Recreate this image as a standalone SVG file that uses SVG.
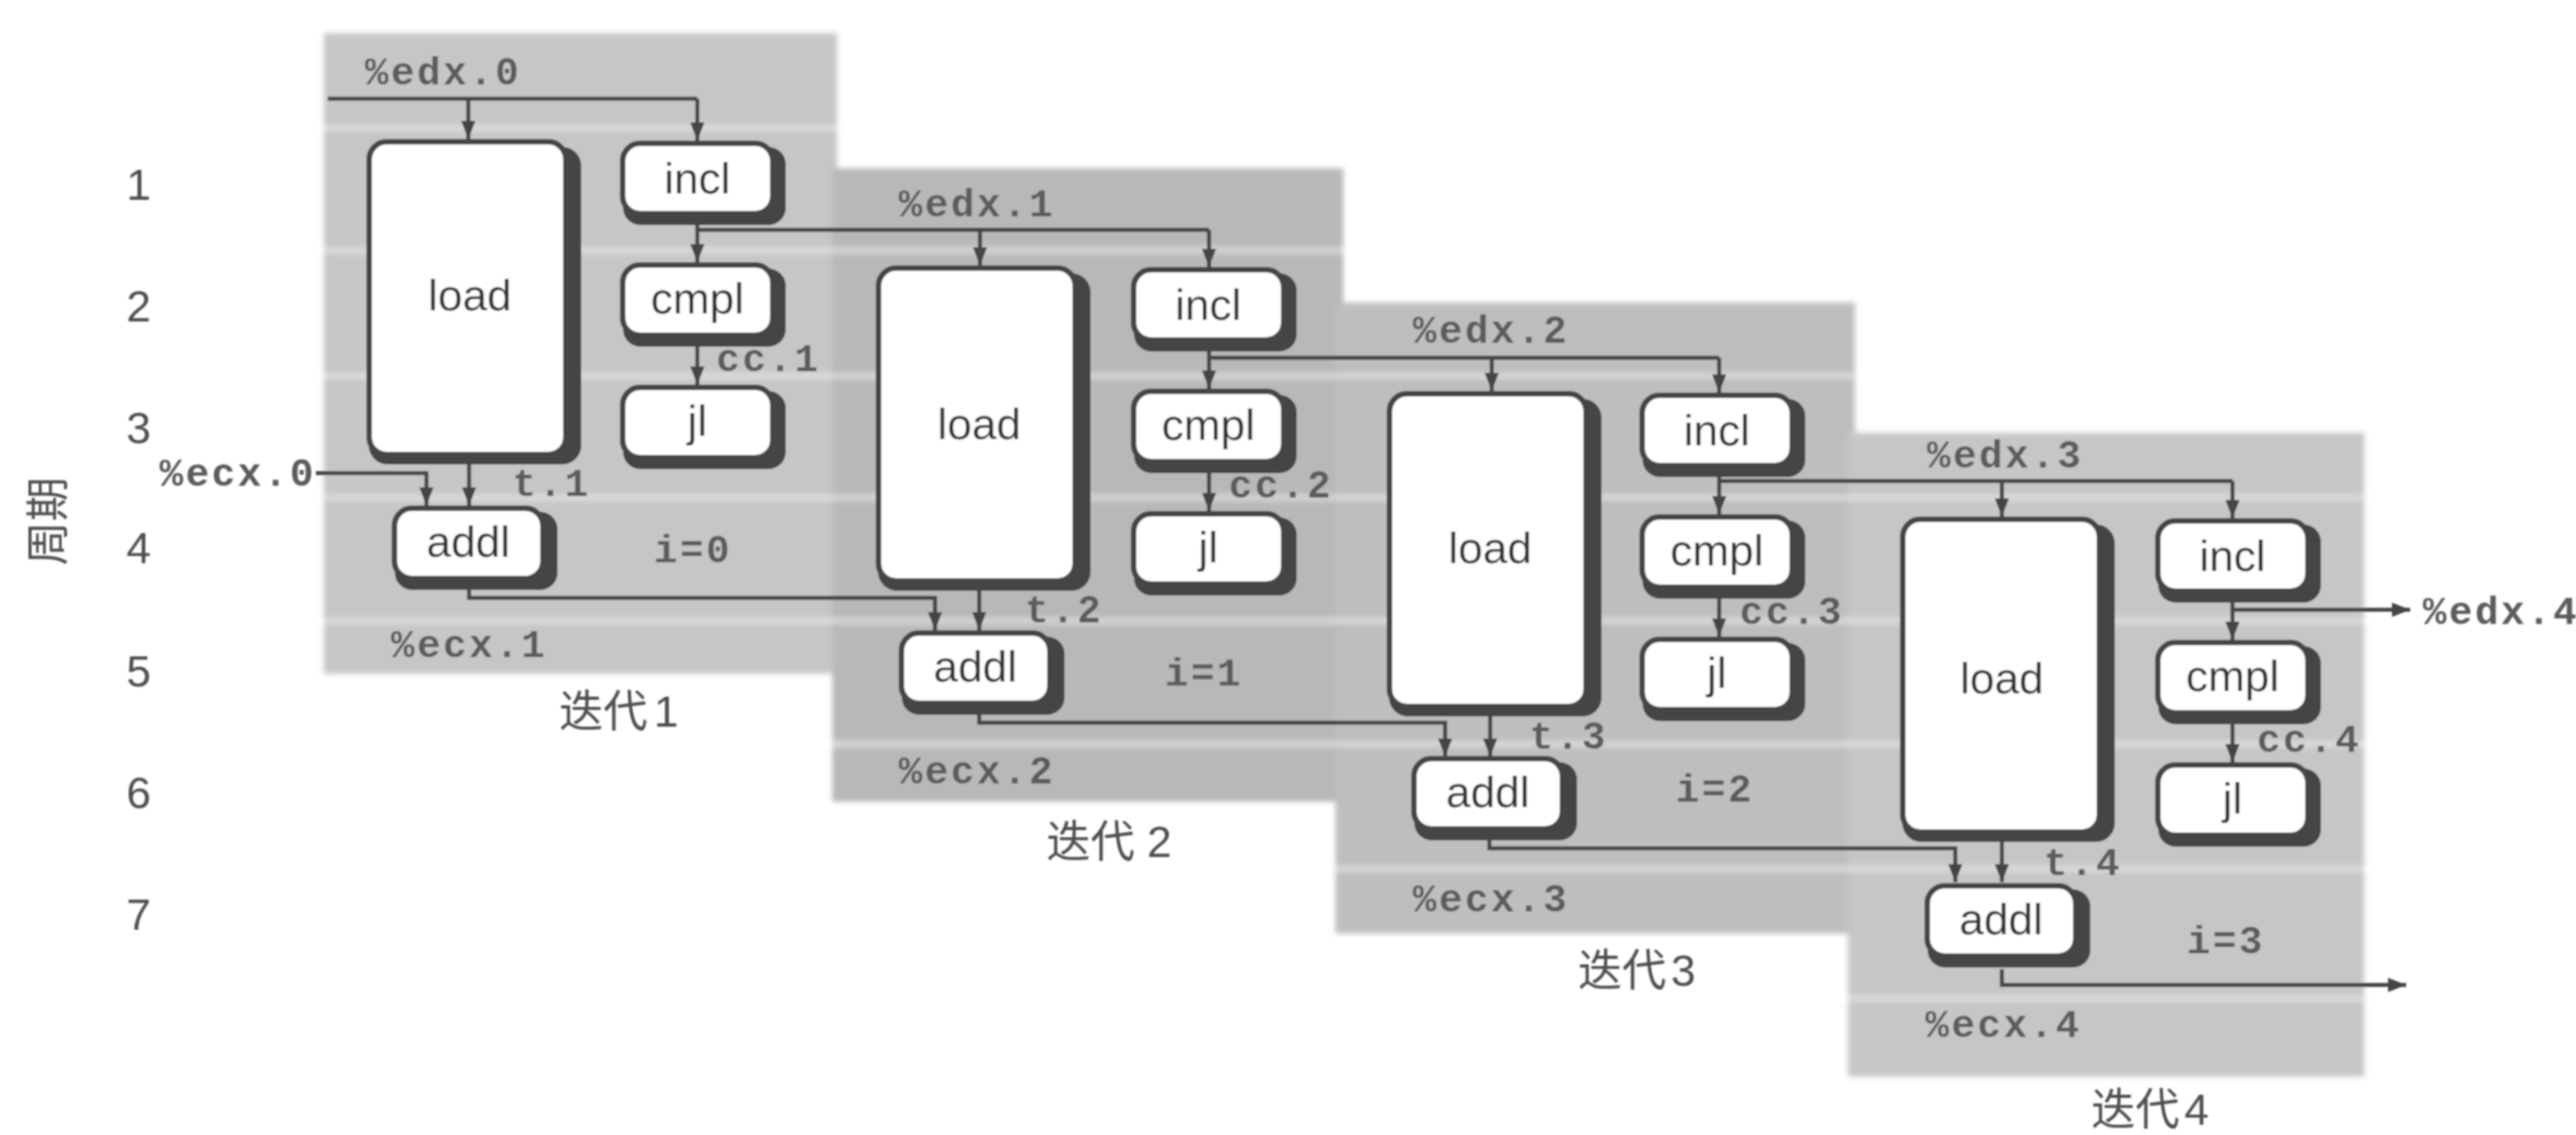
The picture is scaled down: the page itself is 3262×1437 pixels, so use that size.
<svg xmlns="http://www.w3.org/2000/svg" width="3262" height="1437" viewBox="0 0 3262 1437">
<style>
.sh{fill:#444}
.face{fill:#fff;stroke:#444;stroke-width:7}
.n{font-family:"Liberation Sans",Arial,sans-serif;font-size:56px;fill:#333;text-anchor:middle}
.m{font-family:"Liberation Mono","Courier New",monospace;font-size:50px;font-weight:700;fill:#5c5c5c;letter-spacing:3px}
.l{font-family:"Liberation Sans","Noto Sans CJK SC",sans-serif;font-size:56px;fill:#505050}
.c{fill:none;stroke:#444;stroke-width:5;stroke-linejoin:miter}
.a{marker-end:url(#arrow)}
.band{stroke:#e6e6e6;stroke-width:9;opacity:.6}
</style>
<defs>
<marker id="arrow" markerUnits="userSpaceOnUse" markerWidth="24" markerHeight="20" refX="23" refY="10" orient="auto"><path d="M0 1L23 10L0 19z" fill="#444"/></marker>
<filter id="soft" x="-2%" y="-2%" width="104%" height="104%"><feGaussianBlur stdDeviation="0.8"/></filter>
<filter id="soft2" x="-2%" y="-2%" width="104%" height="104%"><feGaussianBlur stdDeviation="3"/></filter>
<clipPath id="bgclip"><rect x="410" y="42" width="650" height="811"/><rect x="1054" y="213" width="647" height="802"/><rect x="1691" y="383" width="658" height="799"/><rect x="2340" y="548" width="654" height="815"/></clipPath>
<g id="s-load"><rect class="sh" x="467" y="186" width="269" height="402" rx="24"/><rect class="face" x="467.500" y="179.500" width="249" height="396" rx="22"/></g>
<g id="s-box"><rect class="sh" x="789" y="186" width="206" height="99" rx="22"/><rect class="face" x="788.500" y="181.500" width="190" height="89" rx="22"/></g>
<g id="s-addl"><rect class="sh" x="500" y="648" width="206" height="99" rx="22"/><rect class="face" x="499.500" y="643.500" width="188" height="89" rx="22"/></g>
</defs>
<rect width="3262" height="1437" fill="#fff"/>
<g filter="url(#soft)">
<g id="backgrounds">
<g filter="url(#soft2)">
<rect x="410" y="42" width="650" height="811" fill="#c6c6c6"/>
<rect x="1054" y="213" width="647" height="802" fill="#b8b8b8"/>
<rect x="1691" y="383" width="658" height="799" fill="#bebebe"/>
<rect x="2340" y="548" width="654" height="815" fill="#c6c6c6"/>
<g clip-path="url(#bgclip)">
<line class="band" x1="410" y1="162" x2="3000" y2="162"/>
<line class="band" x1="410" y1="317" x2="3000" y2="317"/>
<line class="band" x1="410" y1="476" x2="3000" y2="476"/>
<line class="band" x1="410" y1="630" x2="3000" y2="630"/>
<line class="band" x1="410" y1="786" x2="3000" y2="786"/>
<line class="band" x1="410" y1="942" x2="3000" y2="942"/>
<line class="band" x1="410" y1="1100" x2="3000" y2="1100"/>
<line class="band" x1="410" y1="1264" x2="3000" y2="1264"/>
</g>
</g>
</g>
<g id="connectors">
<path class="c" d="M415 125H883"/>
<path class="c a" d="M883 125V178"/>
<path class="c a" d="M593 125V176"/>
<path class="c a" d="M883 285V332"/>
<path class="c a" d="M883 437V487"/>
<path class="c" d="M883 291H1531"/>
<path class="c a" d="M1531 291V338"/>
<path class="c a" d="M1241 291V336"/>
<path class="c a" d="M1531 445V492"/>
<path class="c a" d="M1531 597V647"/>
<path class="c" d="M1531 453H2177"/>
<path class="c a" d="M2177 453V497"/>
<path class="c a" d="M1889 453V495"/>
<path class="c a" d="M2177 604V651"/>
<path class="c a" d="M2177 756V806"/>
<path class="c" d="M2177 609H2827"/>
<path class="c a" d="M2827 609V656"/>
<path class="c a" d="M2535 609V654"/>
<path class="c a" d="M2827 763V810"/>
<path class="c a" d="M2827 915V965"/>
<path class="c a" d="M2827 772H3052"/>
<path class="c a" d="M400 599H540V640"/>
<path class="c a" d="M594 588V640"/>
<path class="c a" d="M594 747V757H1184V798"/>
<path class="c a" d="M1240 748V798"/>
<path class="c a" d="M1240 905V915H1830V958"/>
<path class="c a" d="M1887 907V958"/>
<path class="c a" d="M1886 1064V1074H2476V1117"/>
<path class="c a" d="M2535 1066V1117"/>
<path class="c a" d="M2535 1227V1247H3047"/>
</g>
<g id="load-1"><use href="#s-load"/><text class="n" x="595" y="393">load</text></g>
<g id="incl-1"><use href="#s-box"/><text class="n" x="883" y="245">incl</text></g>
<g id="cmpl-1"><use href="#s-box" y="154"/><text class="n" x="883" y="397">cmpl</text></g>
<g id="jl-1"><use href="#s-box" y="309"/><text class="n" x="883" y="552">jl</text></g>
<g id="addl-1"><use href="#s-addl"/><text class="n" x="593" y="705">addl</text></g>
<g id="load-2" transform="translate(645 160)"><use href="#s-load"/><text class="n" x="595" y="396">load</text></g>
<g id="incl-2" transform="translate(647 160)"><use href="#s-box"/><text class="n" x="883" y="245">incl</text></g>
<g id="cmpl-2" transform="translate(647 160)"><use href="#s-box" y="154"/><text class="n" x="883" y="397">cmpl</text></g>
<g id="jl-2" transform="translate(647 160)"><use href="#s-box" y="309"/><text class="n" x="883" y="552">jl</text></g>
<g id="addl-2" transform="translate(642 158)"><use href="#s-addl"/><text class="n" x="593" y="705">addl</text></g>
<g id="load-3" transform="translate(1292 319)"><use href="#s-load"/><text class="n" x="595" y="394">load</text></g>
<g id="incl-3" transform="translate(1291 319)"><use href="#s-box"/><text class="n" x="883" y="245">incl</text></g>
<g id="cmpl-3" transform="translate(1291 319)"><use href="#s-box" y="154"/><text class="n" x="883" y="397">cmpl</text></g>
<g id="jl-3" transform="translate(1291 319)"><use href="#s-box" y="309"/><text class="n" x="883" y="552">jl</text></g>
<g id="addl-3" transform="translate(1291 317)"><use href="#s-addl"/><text class="n" x="593" y="705">addl</text></g>
<g id="load-4" transform="translate(1942 478)"><use href="#s-load"/><text class="n" x="593" y="400">load</text></g>
<g id="incl-4" transform="translate(1944 478)"><use href="#s-box"/><text class="n" x="883" y="245">incl</text></g>
<g id="cmpl-4" transform="translate(1944 478)"><use href="#s-box" y="154"/><text class="n" x="883" y="397">cmpl</text></g>
<g id="jl-4" transform="translate(1944 478)"><use href="#s-box" y="309"/><text class="n" x="883" y="552">jl</text></g>
<g id="addl-4" transform="translate(1941 478)"><use href="#s-addl"/><text class="n" x="593" y="705">addl</text></g>
<g id="labels">
<text class="m" x="462" y="107">%edx.0</text>
<text class="m" x="1138" y="274">%edx.1</text>
<text class="m" x="1789" y="434">%edx.2</text>
<text class="m" x="2440" y="592">%edx.3</text>
<text class="m" x="3068" y="790">%edx.4</text>
<text class="m" x="202" y="615">%ecx.0</text>
<text class="m" x="495" y="832">%ecx.1</text>
<text class="m" x="1138" y="992">%ecx.2</text>
<text class="m" x="1789" y="1154">%ecx.3</text>
<text class="m" x="2438" y="1313">%ecx.4</text>
<text class="m" x="907" y="470">cc.1</text>
<text class="m" x="1556" y="630">cc.2</text>
<text class="m" x="2203" y="790">cc.3</text>
<text class="m" x="2858" y="952">cc.4</text>
<text class="m" x="649" y="628">t.1</text>
<text class="m" x="1298" y="788">t.2</text>
<text class="m" x="1937" y="948">t.3</text>
<text class="m" x="2588" y="1108">t.4</text>
<text class="m" x="828" y="712">i=0</text>
<text class="m" x="1475" y="868">i=1</text>
<text class="m" x="2122" y="1015">i=2</text>
<text class="m" x="2769" y="1207">i=3</text>
<text class="l" x="708" y="920">迭代<tspan dx="8">1</tspan></text>
<text class="l" x="1325" y="1085">迭代 2</text>
<text class="l" x="1998" y="1248">迭代<tspan dx="6">3</tspan></text>
<text class="l" x="2648" y="1424">迭代<tspan dx="6">4</tspan></text>
<text class="l" x="160" y="253">1</text>
<text class="l" x="160" y="407">2</text>
<text class="l" x="160" y="561">3</text>
<text class="l" x="160" y="713">4</text>
<text class="l" x="160" y="869">5</text>
<text class="l" x="160" y="1023">6</text>
<text class="l" x="160" y="1177">7</text>
<text class="l" transform="translate(80 716) rotate(-90)">周期</text>
</g>
</g>
</svg>
